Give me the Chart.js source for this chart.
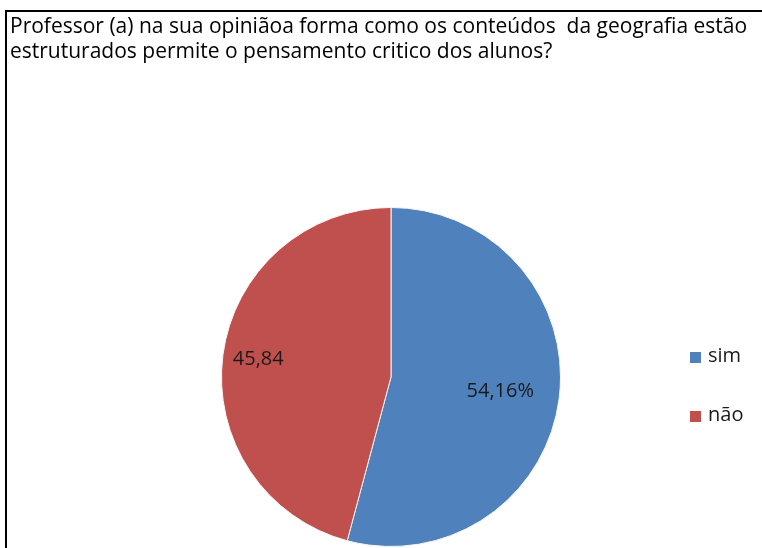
<!DOCTYPE html>
<html lang="pt">
<head>
  <meta charset="UTF-8">
  <title>Pensamento crítico</title>
  <script src="https://cdn.jsdelivr.net/npm/chart.js"></script>
  <style>
    html, body { margin: 0; padding: 0; background: #fff; overflow: hidden; }
    #wrap { width: 762px; height: 548px; overflow: hidden; }
  </style>
</head>
<body>

<div id="wrap">
  <!-- a tela é um pouco mais larga que a janela: a moldura e a área da pizza continuam para a direita -->
  <canvas id="pieChart" width="782" height="548"></canvas>
</div>

<script>
  // dados do gráfico
  const categories = ['sim', 'não'];
  const values = [54.16, 45.84];
  const valueLabels = ['54,16%', '45,84'];
  const titleLines = [
    'Professor (a) na sua opiniãoa forma como os conteúdos  da geografia estão',
    'estruturados permite o pensamento critico dos alunos?'
  ];

  const colors = ['#4F81BD', '#C0504D'];
  const labelRadius = [0.65, 0.79];
  const fontFamily = '"Open Sans", Lato, sans-serif';

  // moldura preta (sai pela direita e por baixo)
  const framePlugin = {
    id: 'frame',
    beforeDraw(chart) {
      const ctx = chart.ctx;
      ctx.save();
      ctx.strokeStyle = '#000';
      ctx.lineWidth = 2;
      ctx.strokeRect(6, 11, 900, 700);
      ctx.restore();
    }
  };

  // rótulos dos valores dentro das fatias
  const valueLabelPlugin = {
    id: 'valueLabels',
    afterDatasetsDraw(chart) {
      const ctx = chart.ctx;
      const meta = chart.getDatasetMeta(0);
      ctx.save();
      ctx.font = '20px ' + fontFamily;
      ctx.fillStyle = '#1a1a1a';
      ctx.textAlign = 'center';
      ctx.textBaseline = 'middle';
      meta.data.forEach((arc, i) => {
        const p = arc.getProps(['x', 'y', 'startAngle', 'endAngle', 'outerRadius'], true);
        const mid = (p.startAngle + p.endAngle) / 2;
        const r = p.outerRadius * labelRadius[i];
        ctx.fillText(valueLabels[i], p.x + Math.cos(mid) * r, p.y + Math.sin(mid) * r);
      });
      ctx.restore();
    }
  };

  // legenda à direita
  const legendPlugin = {
    id: 'sideLegend',
    afterDraw(chart) {
      const ctx = chart.ctx;
      ctx.save();
      ctx.font = '20px ' + fontFamily;
      ctx.textBaseline = 'middle';
      chart.data.labels.forEach((label, i) => {
        const y = 352 + i * 59;
        ctx.fillStyle = chart.data.datasets[0].backgroundColor[i];
        ctx.fillRect(690, y, 11, 11);
        ctx.fillStyle = '#1a1a1a';
        ctx.fillText(label, 708, y + 4);
      });
      ctx.restore();
    }
  };

  const ctx = document.getElementById('pieChart').getContext('2d');

  new Chart(ctx, {
    type: 'pie',
    data: {
      labels: categories,
      datasets: [{
        data: values,
        backgroundColor: colors,
        borderColor: '#f4f4f4',
        borderWidth: 1
      }]
    },
    options: {
      responsive: false,
      animation: false,
      layout: {
        padding: { top: 15, left: 10, right: 10, bottom: 1 }
      },
      plugins: {
        legend: { display: false },
        tooltip: { enabled: false },
        title: {
          display: true,
          text: titleLines,
          align: 'start',
          color: '#000',
          font: { family: fontFamily, size: 21, weight: 'normal', lineHeight: 1.19 },
          padding: { top: 0, bottom: 142 }
        }
      }
    },
    plugins: [framePlugin, valueLabelPlugin, legendPlugin]
  });
</script>

</body>
</html>
